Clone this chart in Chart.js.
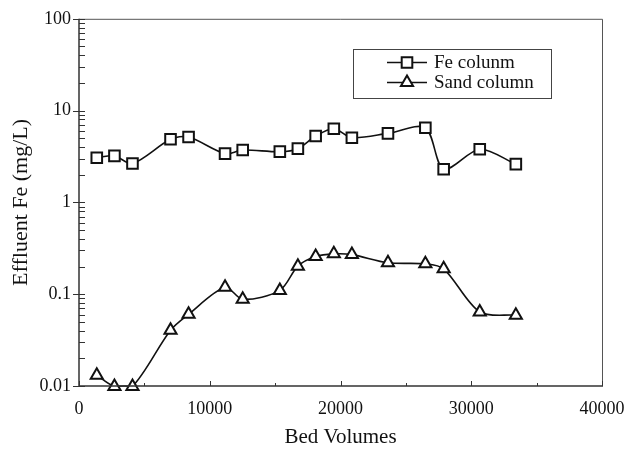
<!DOCTYPE html>
<html>
<head>
<meta charset="utf-8">
<script src="https://cdn.jsdelivr.net/npm/chart.js@4"></script>
<style>
  html, body { margin: 0; padding: 0; background: #fff; }
  #wrap { width: 637px; height: 453px; }
</style>
</head>
<body>
<div id="wrap"><canvas id="chart" width="637" height="453"></canvas></div>
<script>
// Effluent iron versus bed volumes for the two columns
const bedVolumes = [1360, 2710, 4090, 7000, 8380, 11170, 12520, 15360, 16740, 18100, 19490, 20870, 23630, 26490, 27890, 30650, 33410];
const feColumn   = [3.07, 3.21, 2.65, 4.87, 5.15, 3.40, 3.72, 3.57, 3.85, 5.28, 6.34, 5.07, 5.65, 6.50, 2.30, 3.79, 2.61];
const sandColumn = [0.0131, 0.0099, 0.0099, 0.0405, 0.0604, 0.119, 0.088, 0.110, 0.202, 0.257, 0.275, 0.270, 0.220, 0.214, 0.189, 0.064, 0.059];

const seriesNames = ['Fe colunm', 'Sand column'];
const xTicks = [0, 10000, 20000, 30000, 40000];
const yTicks = [0.01, 0.1, 1, 10, 100];

const SERIF = '"Liberation Serif", "Times New Roman", serif';
const INK = '#111';

function toPoints(xs, ys) {
  return xs.map((x, i) => ({ x: x, y: ys[i] }));
}

// Frame, tick marks and the boxed legend
const decorations = {
  id: 'decorations',
  afterDraw(chart) {
    const { ctx, chartArea: a, scales } = chart;
    const xs = scales.x, ys = scales.y;
    ctx.save();

    // top and right edges of the frame
    ctx.strokeStyle = '#555';
    ctx.lineWidth = 1;
    ctx.beginPath();
    ctx.moveTo(a.left, a.top + 0.5);
    ctx.lineTo(a.right + 0.5, a.top + 0.5);
    ctx.lineTo(a.right + 0.5, a.bottom);
    ctx.stroke();

    // axis lines
    ctx.strokeStyle = '#333';
    ctx.lineWidth = 1.5;
    ctx.beginPath();
    ctx.moveTo(a.left, a.top);
    ctx.lineTo(a.left, a.bottom);
    ctx.lineTo(a.right + 1, a.bottom);
    ctx.stroke();

    // y ticks: majors cross the axis, minors point inward
    ctx.lineWidth = 1;
    ctx.beginPath();
    yTicks.forEach(v => {
      const py = Math.round(ys.getPixelForValue(v)) + 0.5;
      ctx.moveTo(a.left - 6, py);
      ctx.lineTo(a.left + 6, py);
    });
    yTicks.slice(0, -1).forEach(d => {
      for (let k = 2; k <= 9; k++) {
        const py = Math.round(ys.getPixelForValue(d * k)) + 0.5;
        ctx.moveTo(a.left, py);
        ctx.lineTo(a.left + 6, py);
      }
    });
    // x ticks point inward (upward), with half steps shorter
    xTicks.forEach(v => {
      const px = Math.round(xs.getPixelForValue(v)) + 0.5;
      ctx.moveTo(px, a.bottom);
      ctx.lineTo(px, a.bottom - 5);
    });
    for (let i = 0; i < xTicks.length - 1; i++) {
      const px = Math.round(xs.getPixelForValue((xTicks[i] + xTicks[i + 1]) / 2)) + 0.5;
      ctx.moveTo(px, a.bottom);
      ctx.lineTo(px, a.bottom - 3);
    }
    ctx.stroke();

    // legend box
    const box = { l: 353, t: 49, r: 551, b: 98 };
    ctx.strokeStyle = '#444';
    ctx.lineWidth = 1;
    ctx.strokeRect(box.l + 0.5, box.t + 0.5, box.r - box.l, box.b - box.t);
    const rows = [62.5, 82.5];
    chart.data.datasets.forEach((ds, i) => {
      const y = rows[i];
      ctx.strokeStyle = INK;
      ctx.lineWidth = 1.6;
      ctx.beginPath();
      ctx.moveTo(387, y);
      ctx.lineTo(427, y);
      ctx.stroke();
      ctx.fillStyle = '#fff';
      ctx.strokeStyle = INK;
      ctx.lineWidth = 2;
      Chart.helpers.drawPoint(ctx, {
        pointStyle: ds.pointStyle, rotation: 0, radius: ds.pointRadius, borderWidth: 2
      }, 407, y);
      ctx.fillStyle = INK;
      ctx.font = '19px ' + SERIF;
      ctx.textAlign = 'left';
      ctx.textBaseline = 'middle';
      ctx.fillText(ds.label, 434, y + 1);
    });
    ctx.restore();
  }
};

new Chart(document.getElementById('chart'), {
  type: 'line',
  data: {
    datasets: [
      {
        label: seriesNames[0],
        data: toPoints(bedVolumes, feColumn),
        borderColor: INK,
        borderWidth: 1.6,
        tension: 0.3,
        pointStyle: 'rect',
        pointRadius: 7.5,
        pointBorderWidth: 2,
        pointBackgroundColor: '#fff',
        pointBorderColor: INK,
        clip: false
      },
      {
        label: seriesNames[1],
        data: toPoints(bedVolumes, sandColumn),
        borderColor: INK,
        borderWidth: 1.6,
        tension: 0.3,
        pointStyle: 'triangle',
        pointRadius: 7,
        pointBorderWidth: 2,
        pointBackgroundColor: '#fff',
        pointBorderColor: INK,
        clip: false
      }
    ]
  },
  options: {
    responsive: false,
    animation: false,
    layout: { padding: { top: 17, right: 35, left: 0, bottom: 0 } },
    plugins: { legend: { display: false }, tooltip: { enabled: false } },
    scales: {
      x: {
        type: 'linear',
        min: 0,
        max: 40000,
        afterFit(s) { s.height = 67; },
        afterBuildTicks(s) { s.ticks = xTicks.map(v => ({ value: v })); },
        grid: { display: false, drawTicks: false },
        border: { display: false },
        ticks: {
          color: INK,
          font: { family: SERIF, size: 18 },
          padding: 12,
          maxRotation: 0,
          callback: v => String(v)
        },
        title: {
          display: true,
          text: 'Bed Volumes',
          color: INK,
          font: { family: SERIF, size: 21 },
          padding: { top: 0, bottom: 3 }
        }
      },
      y: {
        type: 'logarithmic',
        min: 0.01,
        max: 100,
        afterFit(s) { s.width = 79; },
        afterBuildTicks(s) { s.ticks = yTicks.map(v => ({ value: v })); },
        grid: { display: false, drawTicks: false },
        border: { display: false },
        ticks: {
          color: INK,
          font: { family: SERIF, size: 18 },
          padding: 8,
          callback: v => String(v)
        },
        title: {
          display: true,
          text: 'Effluent Fe (mg/L)',
          color: INK,
          font: { family: SERIF, size: 22 },
          padding: { top: 8, bottom: 0 }
        }
      }
    }
  },
  plugins: [decorations]
});
</script>
</body>
</html>
